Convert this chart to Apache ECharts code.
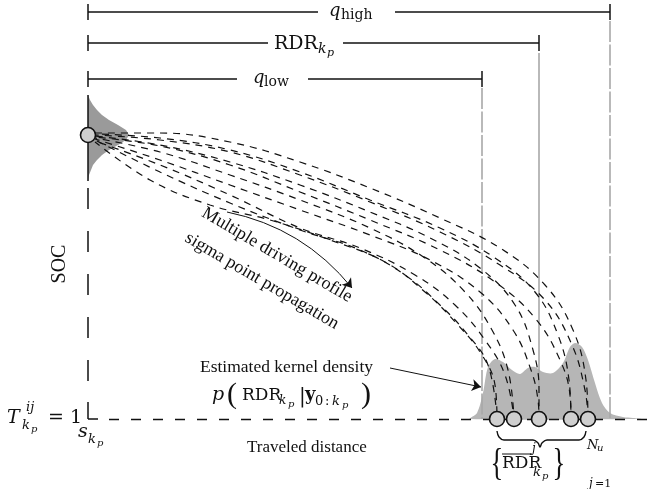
<!DOCTYPE html>
<html><head><meta charset="utf-8">
<script src="https://cdn.jsdelivr.net/npm/echarts/dist/echarts.min.js"></script>
<style>html,body{margin:0;padding:0;background:#fff}#c{width:647px;height:489px}</style>
</head><body><div id="c"></div>
<script>
// ---- data (distance on x, SOC level on y, y grows downward) ----
const origin = [88, 135];                 // initial SOC state
const baseLevel = 419;                    // T = 1 (end of discharge) level
const axisTop = 95;
const qLow = 482, rdrMean = 539, qHigh = 610;
const socGrid    = [95,100,105,110,115,120,125,130,135,140,145,150,155,160,165,170,175,180];
const socDensity = [0, 2, 5, 9, 14, 21, 30, 38, 41, 38, 30, 21, 14, 9, 5, 3, 1, 0];
const kdeDistance = [470,477,483,488,495,503,512,520,528,535,543,553,563,570,575,582,588,595,602,610,623,633,641];
const kdeLevel    = [419,413,393,367,359,362,370,374,368,367,372,373,363,347,343,347,360,383,403,413,417,418,419];
const endDistances = [497, 514, 539, 571, 588];
const trajectories = [
  [[95,133],[160,133],[230,142],[300,162],[370,188],[440,218],[500,248],[545,285],[573,330],[586,380],[588,418]],
  [[95,135],[160,140],[230,152],[300,175],[370,202],[440,232],[500,265],[545,300],[572,345],[585,390],[588,418]],
  [[95,134],[160,138],[230,150],[300,172],[370,200],[440,228],[495,258],[535,292],[558,335],[569,380],[571,418]],
  [[95,137],[160,146],[230,165],[300,192],[370,220],[440,250],[495,282],[535,318],[560,360],[570,395],[571,418]],
  [[95,136],[160,145],[230,162],[300,185],[370,212],[430,238],[480,268],[515,305],[533,350],[539,390],[539,418]],
  [[95,139],[160,160],[230,185],[300,210],[370,235],[430,260],[480,292],[513,330],[531,370],[538,400],[539,418]],
  [[95,138],[160,152],[230,175],[300,200],[370,228],[425,258],[465,292],[492,330],[508,370],[514,418]],
  [[95,141],[160,165],[230,195],[300,228],[360,248],[415,275],[455,305],[485,340],[505,375],[514,418]],
  [[95,140],[160,172],[230,203],[300,230],[360,250],[405,275],[440,305],[468,335],[488,365],[497,418]],
  [[95,142],[150,180],[210,205],[270,220],[330,240],[385,262],[425,292],[458,325],[482,355],[495,385],[497,418]]
];
const brackets = [
  {name:'qHigh', level:12, end:qHigh, gap:[318,395]},
  {name:'RDR',   level:43, end:rdrMean, gap:[268,343]},
  {name:'qLow',  level:79, end:qLow, gap:[237,308]}
];
const braceX = [497, 540, 586];

// ---- build ----
const chart = echarts.init(document.getElementById('c'));
const BLACK = '#111';
const GRAY = '#a8a8a8';
const series = [];

series.push({type:'custom', silent:true, z:1, data:[[0,0]], encode:{x:0,y:1},
  renderItem:(p, api)=>{
    const pts=[];
    for(let i=0;i<socGrid.length;i++) pts.push(api.coord([origin[0]+socDensity[i], socGrid[i]]));
    pts.push(api.coord([origin[0], socGrid[socGrid.length-1]]));
    pts.push(api.coord([origin[0], socGrid[0]]));
    return {type:'polygon', shape:{points:pts}, style:{fill:'#9a9a9a'}};
  }});
series.push({type:'custom', silent:true, z:1, data:[[0,0]], encode:{x:0,y:1},
  renderItem:(p, api)=>{
    const pts=[];
    for(let i=0;i<kdeDistance.length;i++) pts.push(api.coord([kdeDistance[i], kdeLevel[i]]));
    return {type:'polygon', shape:{points:pts, smooth:0.3}, style:{fill:'#b6b6b6'}};
  }});

function seg(a,b){return {coords:[a,b]};}
series.push({type:'lines', coordinateSystem:'cartesian2d', silent:true, z:2,
  lineStyle:{color:GRAY, width:1.6, type:[21,2.5], opacity:1},
  data:[seg([qLow,88],[qLow,baseLevel]), seg([qHigh,21],[qHigh,baseLevel])]});
series.push({type:'lines', coordinateSystem:'cartesian2d', silent:true, z:2,
  lineStyle:{color:GRAY, width:1.6, opacity:1},
  data:[seg([rdrMean,53],[rdrMean,baseLevel])]});
series.push({type:'lines', coordinateSystem:'cartesian2d', silent:true, z:3,
  lineStyle:{color:BLACK, width:1.5, opacity:1},
  data:[seg([origin[0],axisTop],[origin[0],181]), seg([origin[0],402],[origin[0],baseLevel]), seg([origin[0],baseLevel],[98,baseLevel])]});
series.push({type:'lines', coordinateSystem:'cartesian2d', silent:true, z:3,
  lineStyle:{color:BLACK, width:1.5, type:[21,22], opacity:1},
  data:[seg([origin[0],188],[origin[0],400])]});
series.push({type:'lines', coordinateSystem:'cartesian2d', silent:true, z:3,
  lineStyle:{color:BLACK, width:1.3, type:[10,12], opacity:1},
  data:[seg([109,baseLevel],[647,baseLevel])]});
trajectories.forEach((t,i)=>{
  series.push({type:'line', data:t, smooth:0.4, showSymbol:false, silent:true, z:4,
    lineStyle:{color:BLACK, width:1.2, type:[7,6], dashOffset:i*3}});
});
const bData=[];
brackets.forEach(b=>{
  bData.push(seg([origin[0],b.level],[b.gap[0],b.level]));
  bData.push(seg([b.gap[1],b.level],[b.end,b.level]));
  bData.push(seg([origin[0],b.level-8],[origin[0],b.level+8]));
  bData.push(seg([b.end,b.level-8],[b.end,b.level+8]));
});
series.push({type:'lines', coordinateSystem:'cartesian2d', silent:true, z:5,
  lineStyle:{color:BLACK, width:1.5, opacity:1}, data:bData});
series.push({type:'lines', coordinateSystem:'cartesian2d', silent:true, z:5,
  symbol:['none','arrow'], symbolSize:9,
  lineStyle:{color:BLACK, width:1, opacity:1, curveness:0.18},
  data:[seg([227,212],[352,288])]});
series.push({type:'lines', coordinateSystem:'cartesian2d', silent:true, z:5,
  symbol:['none','arrow'], symbolSize:9,
  lineStyle:{color:BLACK, width:1, opacity:1},
  data:[seg([390,368],[481,387])]});
series.push({type:'line', silent:true, z:5, showSymbol:false, smooth:0.4,
  lineStyle:{color:BLACK, width:1.4},
  data:[[braceX[0],431],[braceX[0]+2,437],[braceX[0]+7,440],[braceX[1]-7,440],[braceX[1]-2,443],[braceX[1],447],[braceX[1]+2,443],[braceX[1]+7,440],[braceX[2]-7,440],[braceX[2]-2,437],[braceX[2],431]]});
series.push({type:'scatter', silent:true, z:6, symbolSize:15,
  itemStyle:{color:'#cfcfcf', borderColor:BLACK, borderWidth:1.6, opacity:1},
  data:[origin].concat(endDistances.map(d=>[d,baseLevel]))});

// ---- text ----
const MATH='DejaVu Serif', PROSE='Liberation Serif';
const g=[];
function t(x, base, text, size, opt){
  opt=opt||{};
  const fam = opt.fam || MATH;
  const font = (opt.italic?'italic ':'')+(opt.bold?'bold ':'')+size+'px "'+fam+'"';
  g.push({type:'text', x:x, y:base-0.32*size, z:10,
    style:{text:text, font:font, fill:BLACK, align:opt.align||'left', verticalAlign:'middle'}});
}
t(329,17,'q',18,{italic:true}); t(341,20,'high',14);
t(274,50,'RDR',19); t(318,54,'k',14,{italic:true}); t(327,57,'p',11,{italic:true});
t(253,84,'q',18,{italic:true}); t(264,87,'low',14);
t(7,424,'T',19,{italic:true}); t(26,412,'ij',13,{italic:true}); t(22,430,'k',13,{italic:true}); t(31,433,'p',10,{italic:true});
t(48,424,'= 1',19);
t(78,438,'s',19,{italic:true}); t(88,444,'k',13,{italic:true}); t(97,447,'p',10,{italic:true});
t(200,373,'Estimated kernel density',17.5,{fam:PROSE});
t(247,453,'Traveled distance',17,{fam:PROSE});
t(212,401,'p',19,{italic:true});
t(227,405,'(',30,{fam:PROSE});
t(242,401,'RDR',17);
t(279,405,'k',12,{italic:true}); t(288,408,'p',10,{italic:true});
t(299,403,'|',20);
t(305,401,'y',18,{bold:true});
t(315,406,'0',13); t(325,406,':',13); t(332,406,'k',13,{italic:true}); t(342,409,'p',10,{italic:true});
t(361,405,')',30,{fam:PROSE});
g.push({type:'text', x:497, y:465, z:10, scaleX:0.7,
  style:{text:'{', font:'38px "'+PROSE+'"', fill:BLACK, align:'center', verticalAlign:'middle'}});
t(502,469,'RDR',17);
t(532,453,'j',12,{italic:true});
t(533,477,'k',13,{italic:true}); t(542,480,'p',10,{italic:true});
g.push({type:'text', x:559, y:465, z:10, scaleX:0.7,
  style:{text:'}', font:'38px "'+PROSE+'"', fill:BLACK, align:'center', verticalAlign:'middle'}});
t(587,450,'N',13,{italic:true}); t(597,452,'u',10,{italic:true});
t(589,488,'j',12,{italic:true}); t(595,488,'=1',11);
g.push({type:'line', z:10, shape:{x1:502,y1:454,x2:532,y2:454}, style:{stroke:BLACK, lineWidth:1}});
g.push({type:'text', x:60, y:264, rotation:Math.PI/2, z:10,
  style:{text:'SOC', font:'20px "'+PROSE+'"', fill:BLACK, align:'center', verticalAlign:'middle'}});
g.push({type:'text', x:277, y:255, rotation:-0.53, z:10,
  style:{text:'Multiple driving profile', font:'18px "'+PROSE+'"', fill:BLACK, align:'center', verticalAlign:'middle'}});
g.push({type:'text', x:262, y:281, rotation:-0.53, z:10,
  style:{text:'sigma point propagation', font:'18px "'+PROSE+'"', fill:BLACK, align:'center', verticalAlign:'middle'}});

chart.setOption({
  animation:false,
  grid:{left:0,right:0,top:0,bottom:0},
  xAxis:{type:'value', min:0, max:647, show:false},
  yAxis:{type:'value', min:0, max:489, inverse:true, show:false},
  series:series,
  graphic:g
});
</script></body></html>
